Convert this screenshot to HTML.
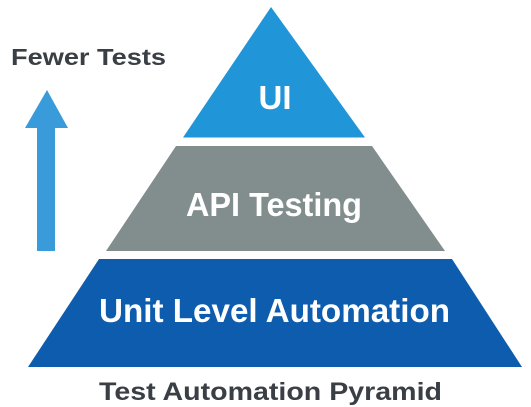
<!DOCTYPE html>
<html><head><style>
html,body{margin:0;padding:0;background:#fff;}
svg{display:block;}
text{font-family:"Liberation Sans",sans-serif;font-weight:bold;}
</style></head><body>
<svg width="531" height="407" viewBox="0 0 531 407" xmlns="http://www.w3.org/2000/svg">
<polygon points="271,7 365,137.5 183,137.5" fill="#2095d8"/>
<polygon points="176,146 372,146 445,251 106,251" fill="#828e8d"/>
<polygon points="99,259 452,259 522,367 28,367" fill="#0e5cae"/>
<rect x="37" y="127" width="18" height="124" fill="#3a9bdb"/>
<polygon points="47,90 68,128 25,128" fill="#3a9bdb"/>
<text x="11" y="65" font-size="23" fill="#3a3f45" textLength="155" lengthAdjust="spacingAndGlyphs">Fewer Tests</text>
<text x="275" y="109" font-size="33" fill="#fff" text-anchor="middle" font-weight="normal">UI</text>
<text x="186" y="216" font-size="33" fill="#fff" textLength="176" lengthAdjust="spacingAndGlyphs" font-weight="normal">API Testing</text>
<text x="99" y="322" font-size="33" fill="#fff" textLength="351" lengthAdjust="spacingAndGlyphs" font-weight="normal">Unit Level Automation</text>
<text x="99" y="400" font-size="25" fill="#3a3f45" textLength="343" lengthAdjust="spacingAndGlyphs">Test Automation Pyramid</text>
</svg>
</body></html>
